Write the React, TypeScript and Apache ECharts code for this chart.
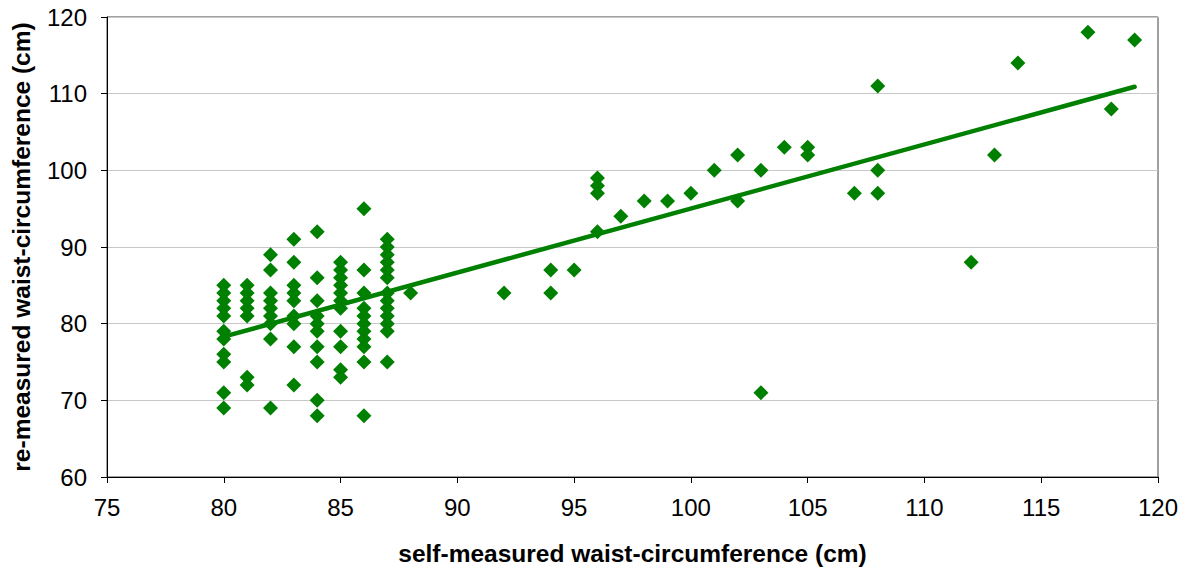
import React, { useEffect, useRef } from "react";
import * as echarts from "echarts";

// self-measured (x) and re-measured (y) waist circumference, cm
const selfMeasured: number[] = [
  80, 80, 80, 80, 80, 80, 80, 80, 80, 80, 80,
  81, 81, 81, 81, 81, 81, 81,
  82, 82, 82, 82, 82, 82, 82, 82, 82,
  83, 83, 83, 83, 83, 83, 83, 83, 83,
  84, 84, 84, 84, 84, 84, 84, 84, 84, 84,
  85, 85, 85, 85, 85, 85, 85, 85, 85, 85, 85,
  86, 86, 86, 86, 86, 86, 86, 86, 86, 86, 86,
  87, 87, 87, 87, 87, 87, 87, 87, 87, 87, 87, 87, 87,
  88, 92, 94, 94, 95, 96, 96, 96, 96, 97, 98, 99, 100, 101, 102, 102,
  103, 103, 104, 105, 105, 107, 108, 108, 108, 112, 113, 114, 117, 118, 119,
];
const reMeasured: number[] = [
  85, 84, 83, 82, 81, 79, 78, 76, 75, 71, 69,
  85, 84, 83, 82, 81, 73, 72,
  89, 87, 84, 83, 82, 81, 80, 78, 69,
  91, 88, 85, 84, 83, 81, 80, 77, 72,
  92, 86, 83, 81, 80, 79, 77, 75, 70, 68,
  88, 87, 86, 85, 84, 83, 82, 79, 77, 74, 73,
  95, 87, 84, 82, 81, 80, 79, 78, 77, 75, 68,
  91, 90, 89, 88, 87, 86, 84, 83, 82, 81, 80, 79, 75,
  84, 84, 87, 84, 87, 99, 98, 97, 92, 94, 96, 96, 97, 100, 102, 96,
  100, 71, 103, 103, 102, 97, 111, 100, 97, 88, 102, 114, 118, 108, 117,
];
const trendX: number[] = [80, 119];
const trendY: number[] = [78.3, 110.9];

const xTicks = { min: 75, max: 120, interval: 5 };
const yTicks = { min: 60, max: 120, interval: 10 };

export default function App() {
  const ref = useRef<HTMLDivElement>(null);
  useEffect(() => {
    if (!ref.current) return;
    const chart = echarts.init(ref.current, null, { renderer: "svg" });
    const points = selfMeasured.map((x, i) => [x, reMeasured[i]]);
    const trend = trendX.map((x, i) => [x, trendY[i]]);
    const font = "'Liberation Sans', Arial, sans-serif";
    chart.setOption({
      animation: false,
      backgroundColor: "#ffffff",
      grid: {
        left: 107,
        right: 32,
        top: 17,
        bottom: 94,
        show: true,
        borderColor: "#404040",
        borderWidth: 1,
      },
      xAxis: {
        type: "value",
        min: xTicks.min,
        max: xTicks.max,
        interval: xTicks.interval,
        name: "self-measured waist-circumference (cm)",
        nameLocation: "middle",
        nameGap: 64,
        nameTextStyle: { fontFamily: font, fontSize: 24.5, fontWeight: "bold", color: "#000" },
        axisLine: { show: true, lineStyle: { color: "#000", width: 1 } },
        axisTick: { show: true, length: 6, lineStyle: { color: "#000" } },
        axisLabel: { fontFamily: font, fontSize: 24, color: "#000", margin: 18 },
        splitLine: { show: false },
      },
      yAxis: {
        type: "value",
        min: yTicks.min,
        max: yTicks.max,
        interval: yTicks.interval,
        name: "re-measured waist-circumference (cm)",
        nameLocation: "middle",
        nameGap: 73,
        nameTextStyle: { fontFamily: font, fontSize: 24.5, fontWeight: "bold", color: "#000" },
        axisLine: { show: true, lineStyle: { color: "#000", width: 1 } },
        axisTick: { show: true, length: 6, lineStyle: { color: "#000" } },
        axisLabel: { fontFamily: font, fontSize: 24, color: "#000", margin: 20 },
        splitLine: { show: true, lineStyle: { color: "#c8c8c8", width: 1 } },
      },
      series: [
        {
          type: "scatter",
          data: points,
          symbol: "diamond",
          symbolSize: [15, 15],
          itemStyle: { color: "#008000", opacity: 1 },
          z: 2,
        },
        {
          type: "line",
          data: trend,
          symbol: "none",
          lineStyle: { color: "#008000", width: 4.5, cap: "round" },
          z: 3,
        },
      ],
    });
    return () => chart.dispose();
  }, []);
  return <div ref={ref} style={{ width: 1190, height: 571, position: "absolute", left: 0, top: 0 }} />;
}
